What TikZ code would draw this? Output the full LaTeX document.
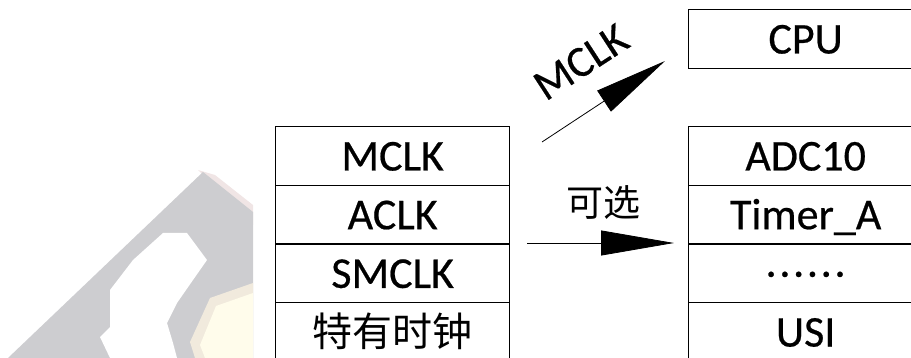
\documentclass[tikz,border=0pt]{standalone}
\usepackage{fontspec}
\setmainfont{Carlito}[UprightFeatures={FakeBold=0.5}]
\newfontfamily\cjk{Noto Sans CJK SC}
\usetikzlibrary{arrows.meta}
\definecolor{wmgray}{HTML}{CDCDD0}
\definecolor{wmyellow}{HTML}{FFFCEB}
\definecolor{wmtan}{HTML}{F1EADD}
\definecolor{wmpink}{HTML}{F0E5E5}
\begin{document}
\begin{tikzpicture}[x=1pt,y=-1pt,
  cell/.style={draw=black, line width=1.3pt, minimum width=234pt, minimum height=58.7pt,
    inner sep=0pt, anchor=north west, font=\fontsize{44}{50}\selectfont,
    text height=29pt, text depth=0pt},
  cjkcell/.style={cell, font=\cjk\fontsize{40}{46}\selectfont},
  flow/.style={line width=0.8pt, -{Triangle[length=73pt,width=25pt]}},
  lbl/.style={inner sep=0pt, font=\fontsize{44}{50}\selectfont},
]
\useasboundingbox (0,0) rectangle (911,358);
\clip (0,0) rectangle (911,358);
% faded background picture
\fill[wmpink] (198,170) -- (215,175) -- (253,205) -- (253,225) -- cycle;
\fill[wmgray] (8,358) -- (203,172) -- (253,212) -- (253,358) -- cycle;
\fill[white] (110,358) -- (100,337) -- (110,327) -- (110,290) -- (133,260) -- (163,233)
  -- (187,233) -- (207,260) -- (193,280) -- (177,303) -- (167,323) -- (173,343) -- (177,358) -- cycle;
\fill[wmtan] (253,283) -- (210,298) -- (190,342) -- (195,358) -- (253,358) -- cycle;
\fill[wmyellow] (253,293) -- (216,306) -- (200,345) -- (205,358) -- (253,358) -- cycle;
% left column
\node[cell] (m) at (275,126) {MCLK};
\node[cell] (a) at (275,184.7) {ACLK};
\node[cell] (s) at (275,243.4) {SMCLK};
\node[cjkcell] (t) at (275,302.1) {特有时钟};
% right column
\node[cell] (cpu) at (688,9) {CPU};
\node[cell] (adc) at (688,126) {ADC10};
\node[cell] (tim) at (688,184.7) {Timer\_A};
\node[cell, text height=6.6pt] (dots) at (688,243.4)
  {.\kern2.7pt.\kern2.7pt.\kern2.7pt.\kern2.7pt.\kern2.7pt.};
\node[cell] (usi) at (688,302.1) {USI};
% arrows
\coordinate (p1) at (542,142);
\coordinate (q1) at (665,61);
\draw[flow] (p1) -- (q1);
\node[lbl, rotate=33] (l1) at (581,62) {MCLK};
\coordinate (p2) at (527,243);
\coordinate (q2) at (674,243);
\draw[flow] (p2) -- (q2);
\node[inner sep=0pt, font=\cjk\fontsize{37}{42}\selectfont] (l2) at (603,203) {可选};
\end{tikzpicture}
\end{document}
